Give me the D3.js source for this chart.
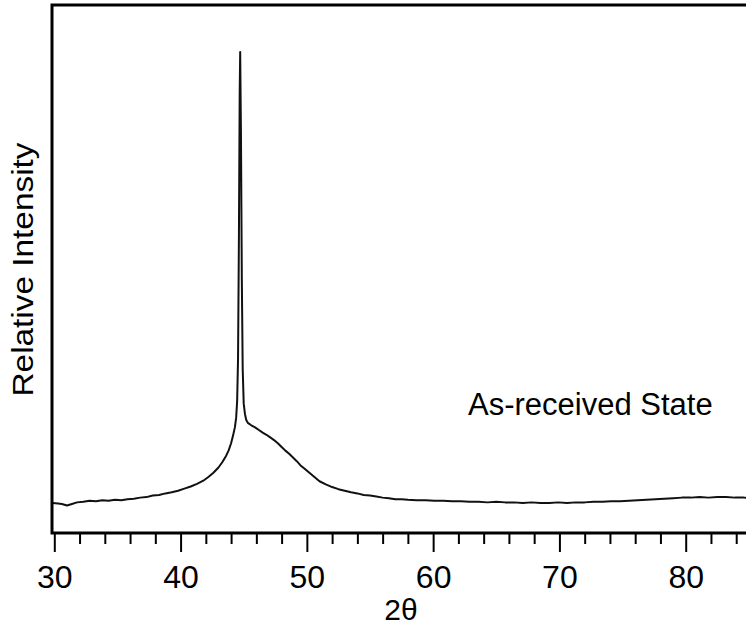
<!DOCTYPE html>
<html>
<head>
    <script src="https://d3js.org/d3.v7.min.js"></script>
    <title>XRD As-received</title>
    <style>
        body { margin: 0; background: #fff; }
        svg { display: block; }
        text { font-family: "Liberation Sans", Arial, Helvetica, sans-serif; fill: #000; }
    </style>
</head>
<body>
    <div id="chart"></div>
    <script>
        // 2-theta positions (deg) and intensity readings (arbitrary units)
        var twoTheta = [29.85, 30.3, 30.6, 31.0, 31.4, 31.8, 32.3, 32.8, 33.3, 33.8, 34.3, 34.8, 35.3, 35.8,
            36.3, 36.8, 37.3, 37.8, 38.3, 38.8, 39.3, 39.8, 40.3, 40.8, 41.3, 41.8, 42.2, 42.6, 43.0,
            43.3, 43.6, 43.8, 44.0, 44.15, 44.3, 44.4, 44.48, 44.55, 44.62, 44.68, 44.72, 44.78, 44.85,
            44.92, 45.0, 45.1, 45.2, 45.35, 45.6, 45.9, 46.2, 46.5, 46.8, 47.1, 47.4, 47.7, 48.0, 48.3,
            48.6, 48.9, 49.2, 49.5, 49.8, 50.2, 50.6, 51.0, 51.5, 52.0, 52.5, 53.0, 53.5, 54.0, 54.5,
            55.0, 55.5, 56.0, 56.5, 57.0, 57.5, 58.0, 58.7, 59.4, 60.1, 60.8, 61.5, 62.2, 62.9, 63.6,
            64.3, 65.0, 65.7, 66.4, 67.1, 67.8, 68.5, 69.2, 69.9, 70.6, 71.3, 72.0, 72.7, 73.4, 74.1,
            74.8, 75.5, 76.2, 76.9, 77.6, 78.3, 79.0, 79.7, 80.4, 81.1, 81.8, 82.5, 83.2, 83.9, 84.6, 85.3];
        var intensity = [57, 56, 55, 52, 55, 58, 59, 61, 60, 62, 61, 63, 62, 64,
            65, 67, 68, 71, 72, 75, 77, 80, 84, 88, 93, 99, 106, 114, 124,
            134, 146, 156, 170, 184, 200, 218, 250, 330, 560, 830, 911, 760, 480,
            310, 245, 225, 214, 208, 204, 200, 195, 190, 186, 181, 176, 170, 163, 156,
            150, 143, 136, 128, 122, 114, 106, 98, 92, 87, 83, 80, 77, 75, 72,
            71, 69, 67, 66, 64, 64, 63, 62, 62, 61, 61, 60, 60, 59, 59,
            58, 59, 58, 58, 57, 58, 57, 57, 58, 57, 58, 58, 59, 59, 60,
            60, 61, 62, 63, 64, 65, 66, 67, 67, 68, 67, 68, 68, 67, 67, 66];
        var majorTicks = [30, 40, 50, 60, 70, 80];
        var minorTicks = d3.range(30, 92, 2).filter(function(d) { return d % 10 !== 0; });

        var width = 746, height = 626;
        var plotLeft = 52, plotTop = 5, plotBottom = 533, plotRight = 780;

        var svg = d3.select('#chart').append('svg')
            .attr('width', width)
            .attr('height', height);

        var x = d3.scaleLinear().domain([30, 80]).range([54.3, 685.7]);
        var y = d3.scaleLinear().domain([0, 1000]).range([plotBottom, plotTop]);

        // curve
        var line = d3.line()
            .x(function(d) { return x(d[0]); })
            .y(function(d) { return y(d[1]); });
        var points = twoTheta.map(function(t, i) { return [t, intensity[i]]; });
        svg.append('path')
            .datum(points)
            .attr('d', line)
            .attr('fill', 'none')
            .attr('stroke', '#111')
            .attr('stroke-width', 2)
            .attr('stroke-linejoin', 'round');

        // minor ticks
        svg.append('g')
            .attr('transform', 'translate(0,' + plotBottom + ')')
            .call(d3.axisBottom(x).tickValues(minorTicks).tickSize(11).tickFormat(''))
            .call(function(g) {
                g.select('.domain').remove();
                g.selectAll('line').attr('stroke', '#000').attr('stroke-width', 2);
            });

        // major ticks
        svg.append('g')
            .attr('transform', 'translate(0,' + plotBottom + ')')
            .call(d3.axisBottom(x).tickValues(majorTicks).tickSize(19).tickPadding(13).tickFormat(d3.format('d')))
            .call(function(g) {
                g.select('.domain').remove();
                g.selectAll('line').attr('stroke', '#000').attr('stroke-width', 2);
                g.selectAll('text').attr('font-size', 32)
                    .attr('font-family', '"Liberation Sans", Arial, sans-serif').attr('fill', '#000');
            });

        // frame
        svg.append('rect')
            .attr('x', plotLeft)
            .attr('y', plotTop)
            .attr('width', plotRight - plotLeft)
            .attr('height', plotBottom - plotTop)
            .attr('fill', 'none')
            .attr('stroke', '#000')
            .attr('stroke-width', 3);

        // labels
        svg.append('text')
            .attr('x', 401)
            .attr('y', 620)
            .attr('text-anchor', 'middle')
            .attr('font-size', 30)
            .text('2θ');

        svg.append('text')
            .attr('transform', 'translate(33,269.5) rotate(-90)')
            .attr('text-anchor', 'middle')
            .attr('font-size', 29)
            .attr('textLength', 254)
            .attr('lengthAdjust', 'spacingAndGlyphs')
            .text('Relative Intensity');

        svg.append('text')
            .attr('x', 468)
            .attr('y', 415)
            .attr('font-size', 31)
            .text('As-received State');
    </script>
</body>
</html>
